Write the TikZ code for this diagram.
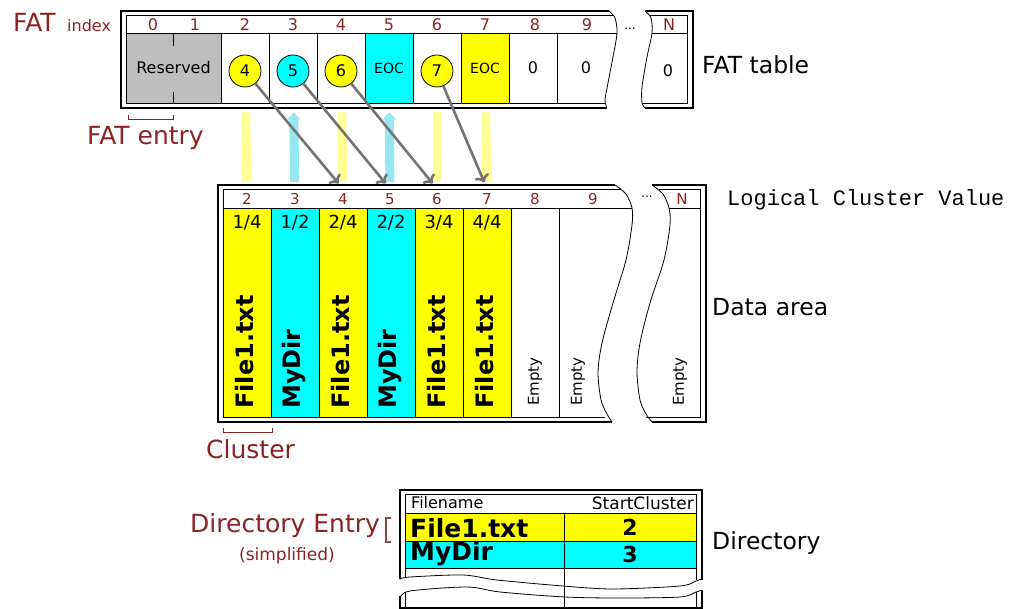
\documentclass[tikz,border=0pt]{standalone}
\usepackage{fontspec}
\setmainfont{DejaVu Sans}
\newfontfamily\lcvfont{Liberation Mono}
\usepackage{xcolor}
\usepackage{tikz}
\usetikzlibrary{arrows.meta}

\definecolor{idxred}{RGB}{140,35,35}
\definecolor{fatgray}{RGB}{190,190,190}
\definecolor{fatyellow}{RGB}{255,255,0}
\definecolor{fatcyan}{RGB}{0,255,255}
\definecolor{paleyellow}{RGB}{255,255,150}
\definecolor{palecyan}{RGB}{150,232,240}
\newcommand{\fsz}[1]{\fontsize{#1}{#1}\selectfont}

\begin{document}
\begin{tikzpicture}[x=1pt, y=-1pt,
    fatcell/.style={draw, rectangle, minimum width=48pt, minimum height=70pt, inner sep=0pt, line width=0.8pt},
    clus/.style={draw, rectangle, minimum width=48pt, minimum height=209pt, inner sep=0pt, line width=0.8pt},
    ptr/.style={draw, circle, minimum size=32pt, inner sep=0pt, line width=0.8pt, font=\fsz{16}},
    idx/.style={text=idxred, font=\fsz{16}, inner sep=0pt},
    dhdr/.style={text=idxred, font=\fsz{15}, inner sep=0pt, minimum height=20pt},
    part/.style={font=\fsz{18}, inner sep=0pt},
    fname/.style={rotate=90, anchor=west, font=\bfseries\fsz{24}, inner sep=0pt},
    emptytxt/.style={rotate=90, anchor=west, font=\fsz{15}, inner sep=0pt},
    lbl/.style={text=idxred, font=\fsz{25}, inner sep=0pt},
    sidelbl/.style={font=\fsz{23.5}, anchor=west, inner sep=0pt},
    colbar/.style={line width=9pt, shorten <=9pt, shorten >=7pt},
    ptrarrow/.style={->, line width=2.6pt, black!55, shorten >=7pt}]

    \fill[white] (0,0) rectangle (1011,609);
    \useasboundingbox (0,0) rectangle (1011,609);

    % FAT index
    \node[lbl, anchor=base west] (fatlbl) at (13,32) {FAT};
    \node[idx, anchor=base west] (fatidx) at (67,32) {index};
    \node[idx] (h0) at (153,25) {0};
    \node[idx] (h1) at (195,25) {1};
    \node[idx] (h2) at (245,25) {2};
    \node[idx] (h3) at (293,25) {3};
    \node[idx] (h4) at (341,25) {4};
    \node[idx] (h5) at (389,25) {5};
    \node[idx] (h6) at (437,25) {6};
    \node[idx] (h7) at (485,25) {7};
    \node[idx] (h8) at (535,25) {8};
    \node[idx] (h9) at (587,25) {9};
    \node[idx] (hN) at (669,25) {N};
    \node[font=\fsz{12}] (fdots) at (630,29) {...};

    % FAT table
    \node[fatcell, minimum width=95pt, fill=fatgray, font=\fsz{16}] (res) at (173.5,68) {Reserved};
    \node[fatcell] (f2) at (245,68) {};
    \node[fatcell] (f3) at (293,68) {};
    \node[fatcell] (f4) at (341,68) {};
    \node[fatcell, fill=fatcyan, font=\fsz{14}] (f5) at (389,68) {EOC};
    \node[fatcell] (f6) at (437,68) {};
    \node[fatcell, fill=fatyellow, font=\fsz{14}] (f7) at (485,68) {EOC};
    \node[fatcell, font=\fsz{16}] (f8) at (533,68) {0};
    \node[font=\fsz{16}] (f9) at (586,68) {0};
    \node[font=\fsz{16}] (fN) at (668,71) {0};
    \draw (173.5,34) -- (173.5,46);
    \draw (173.5,92) -- (173.5,103);
    \draw[line width=1.1pt] (609,11) -- (121,11) -- (121,108) -- (607,108);
    \draw[line width=0.8pt] (614,15.5) -- (126,15.5) -- (126,103) -- (605,103);
    \draw[line width=0.8pt] (126,33) -- (617,33);
    \draw[line width=0.8pt] plot[smooth] coordinates {(609,11) (615,18) (617,33) (613,57) (608,83) (605,100) (607,108)};
    \draw[line width=1.1pt] (645,11) -- (693,11) -- (693,108) -- (645,108);
    \draw[line width=0.8pt] (650,15.5) -- (687,15.5) -- (687,103) -- (643,103);
    \draw[line width=0.8pt] (652,33) -- (687,33);
    \draw[line width=0.8pt] plot[smooth] coordinates {(645,11) (651,18) (652,33) (647,57) (642,87) (642,103) (645,108)};
    \node[sidelbl] (fattbl) at (702,65) {FAT table};

    % next-cluster pointers
    \node[ptr, fill=fatyellow] (c4) at (245,71) {4};
    \node[ptr, fill=fatcyan] (c5) at (293,71) {5};
    \node[ptr, fill=fatyellow] (c6) at (341,71) {6};
    \node[ptr, fill=fatyellow] (c7) at (437,71) {7};

    % FAT entry
    \draw[idxred, line width=1pt] (128,115) -- (128,120) -- (173.5,120) -- (173.5,115);
    \node[lbl, anchor=base west] (entrylbl) at (87,145) {FAT entry};

    % Data area
    \node[dhdr] (dh2) at (247,199) {2};
    \node[dhdr] (dh3) at (295,199) {3};
    \node[dhdr] (dh4) at (343,199) {4};
    \node[dhdr] (dh5) at (390,199) {5};
    \node[dhdr] (dh6) at (437,199) {6};
    \node[dhdr] (dh7) at (487,199) {7};
    \node[dhdr] (dh8) at (535,199) {8};
    \node[dhdr] (dh9) at (593,199) {9};
    \node[dhdr] (dhN) at (682,199) {N};
    \node[font=\fsz{12}] (ddots) at (647,197) {...};

    \node[clus, fill=fatyellow] (d2) at (247,312.5) {};
    \node[clus, fill=fatcyan] (d3) at (295,312.5) {};
    \node[clus, fill=fatyellow] (d4) at (343,312.5) {};
    \node[clus, fill=fatcyan] (d5) at (391,312.5) {};
    \node[clus, fill=fatyellow] (d6) at (439,312.5) {};
    \node[clus, fill=fatyellow] (d7) at (487,312.5) {};
    \node[clus] (d8) at (535,312.5) {};

    \node[part] (p2) at (247,223) {1/4};
    \node[part] (p3) at (295,223) {1/2};
    \node[part] (p4) at (343,223) {2/4};
    \node[part] (p5) at (391,223) {2/2};
    \node[part] (p6) at (439,223) {3/4};
    \node[part] (p7) at (487,223) {4/4};

    \node[fname] (n2) at (245,409) {File1.txt};
    \node[fname] (n3) at (294,409) {MyDir};
    \node[fname] (n4) at (341,409) {File1.txt};
    \node[fname] (n5) at (390,409) {MyDir};
    \node[fname] (n6) at (437,409) {File1.txt};
    \node[fname] (n7) at (485,409) {File1.txt};
    \node[emptytxt] (e8) at (535,406) {Empty};
    \node[emptytxt] (e9) at (578,406) {Empty};
    \node[emptytxt] (eN) at (680,406) {Empty};

    \draw[line width=1.1pt] (615,185) -- (218,185) -- (218,422) -- (612,422);
    \draw[line width=0.8pt] (621,189) -- (223,189) -- (223,417) -- (605,417);
    \draw[line width=0.8pt] (223,208) -- (632,208);
    \draw[line width=0.8pt] plot[smooth] coordinates {(615,185) (626,194) (632,208) (632,225) (626,260) (613,303) (602,343) (598,372) (601,400) (607,414) (612,422)};
    \draw[line width=1.1pt] (652,185) -- (706,185) -- (706,422) -- (652,422);
    \draw[line width=0.8pt] (659,189) -- (700,189) -- (700,417) -- (646,417);
    \draw[line width=0.8pt] (669,208) -- (700,208);
    \draw[line width=0.8pt] plot[smooth] coordinates {(652,185) (663,194) (669,208) (670,225) (664,260) (650,303) (640,343) (637,372) (640,400) (646,414) (652,422)};

    \node[anchor=west, font=\lcvfont\fsz{22}, inner sep=0pt] (lcv) at (727,200) {Logical Cluster Value};
    \node[sidelbl] (datalbl) at (712,307) {Data area};

    % Cluster
    \draw[idxred, line width=1pt] (223,428) -- (223,432) -- (272,432) -- (272,428);
    \node[lbl, anchor=base west] (cluslbl) at (206,458) {Cluster};

    % Directory
    \node[lbl, anchor=base west] (direntry) at (190,532) {Directory Entry};
    \node[text=idxred, font=\fsz{17}, inner sep=0pt] (simp) at (287,556) {(simplified)};
    \draw[idxred!60!gray, line width=1.2pt] (391,518) -- (386,518) -- (386,542) -- (391,542);

    \node[anchor=west, font=\fsz{16}, inner sep=0pt] (hfile) at (411,503) {Filename};
    \node[anchor=east, font=\fsz{17}, inner sep=0pt] (hstart) at (694,503) {StartCluster};
    \node[draw, fill=fatyellow, minimum width=159pt, minimum height=28pt, line width=0.8pt] (dn1) at (484.5,527) {};
    \node[draw, fill=fatyellow, minimum width=132pt, minimum height=28pt, line width=0.8pt, font=\bfseries\fsz{22}] (ds1) at (630,527) {2};
    \node[draw, fill=fatcyan, minimum width=159pt, minimum height=27pt, line width=0.8pt] (dn2) at (484.5,554.5) {};
    \node[draw, fill=fatcyan, minimum width=132pt, minimum height=27pt, line width=0.8pt, font=\bfseries\fsz{22}] (ds2) at (630,554.5) {3};
    \node[anchor=west, font=\bfseries\fsz{25}, inner sep=0pt] (dt1) at (410,528) {File1.txt};
    \node[anchor=west, font=\bfseries\fsz{25}, inner sep=0pt] (dt2) at (410,554) {MyDir};

    \draw[line width=1.4pt] (400,579) -- (400,490) -- (702,490) -- (702,580);
    \draw[line width=0.8pt] (405,577) -- (405,494) -- (696,494) -- (696,580);
    \draw[line width=0.8pt] (564,568) -- (564,608);
    \draw[line width=0.8pt] plot[smooth] coordinates {(400,579) (410,577) (463,575) (497,580) (563,586) (613,589) (680,586) (696,581) (702,579)};
    \draw[line width=0.8pt] plot[smooth] coordinates {(400,598) (410,591) (467,587) (500,592) (565,597) (620,598) (680,597) (696,592) (702,590)};
    \draw[line width=1.4pt] (400,596) -- (400,608) -- (702,608) -- (702,590);
    \draw[line width=0.8pt] (405,592) -- (405,608);
    \draw[line width=0.8pt] (696,592) -- (696,608);
    \node[sidelbl] (dirlbl) at (712,543) {Directory};

    % cluster bars
    \draw[colbar, paleyellow] (f2) -- (dh2);
    \draw[colbar, palecyan, {Triangle[width=13pt,length=7pt]}-] (f3) -- (dh3);
    \draw[colbar, paleyellow] (f4) -- (dh4);
    \draw[colbar, palecyan, {Triangle[width=13pt,length=7pt]}-] (f5) -- (dh5);
    \draw[colbar, paleyellow] (f6) -- (dh6);
    \draw[colbar, paleyellow] (f7) -- (dh7);

    % Arrows
    \draw[ptrarrow] (c4) -- (dh4.north);
    \draw[ptrarrow] (c5) -- (dh5.north);
    \draw[ptrarrow] (c6) -- (dh6.north);
    \draw[ptrarrow] (c7) -- (dh7.north);
\end{tikzpicture}
\end{document}
